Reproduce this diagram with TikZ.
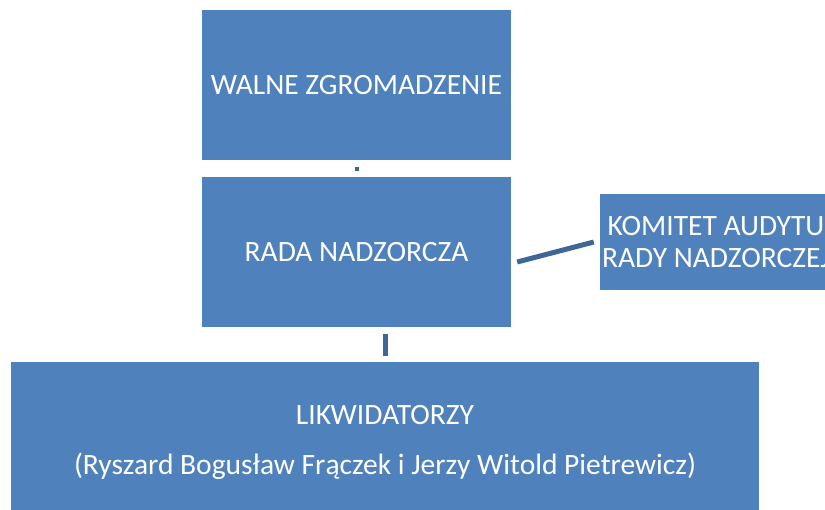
\documentclass[tikz,border=0pt]{standalone}
\usepackage{fontspec}
\setmainfont{Carlito}
\definecolor{boxblue}{HTML}{4F81BD}
\definecolor{linkblue}{HTML}{3E6797}
\begin{document}
\begin{tikzpicture}[x=1pt,y=-1pt,
		every node/.style={fill=boxblue,text=white,inner sep=0pt,align=center,
			font=\fontsize{29.5}{32}\selectfont},
		link/.style={draw=linkblue,line width=5pt}]
\useasboundingbox (0,0) rectangle (825,509);
\clip (0,0) rectangle (825,509);
\node[minimum width=309pt,minimum height=150pt] (walne) at (356.5,85) {WALNE ZGROMADZENIE};
\node[minimum width=309pt,minimum height=150pt] (rada) at (356.5,252) {RADA NADZORCZA};
\node[minimum width=232pt,minimum height=96pt] (komitet) at (716,242)
	{KOMITET AUDYTU\\RADY NADZORCZEJ};
\node[minimum width=748pt,minimum height=160pt,font=\fontsize{29.5}{50}\selectfont] (likw) at (385,442)
	{LIKWIDATORZY\\(Ryszard Bogusław Frączek i Jerzy Witold Pietrewicz)};
% connectors
\draw[link,line width=4pt,shorten <=7pt,shorten >=6pt] (walne) -- (rada);
\draw[link] ([xshift=6pt,yshift=-10pt]rada.east) -- ([xshift=-6pt]komitet.west);
\draw[link,shorten <=7pt,shorten >=6pt] (rada.south -| likw.north) -- (likw.north);
\end{tikzpicture}
\end{document}
